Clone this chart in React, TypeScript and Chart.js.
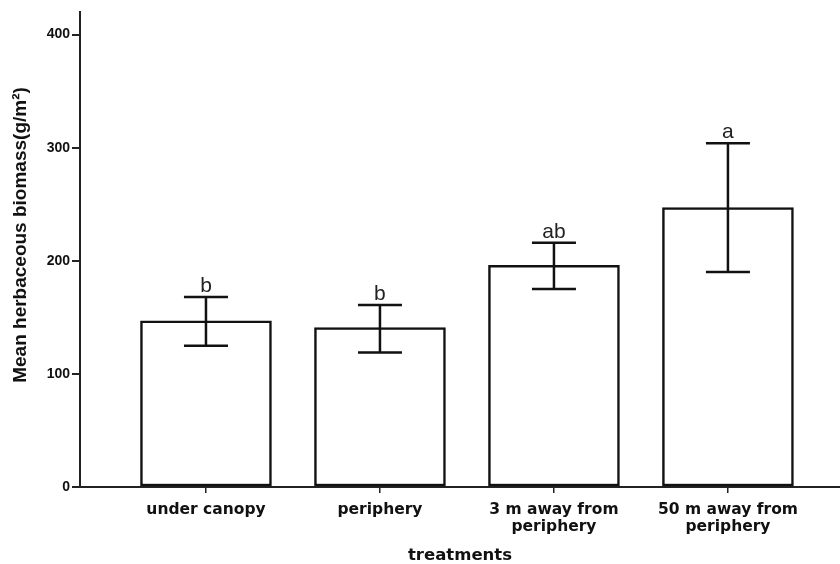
import React, { useEffect, useRef } from "react";
import { Chart, registerables } from "chart.js";

Chart.register(...registerables);

const categories: string[][] = [
  ["under canopy"],
  ["periphery"],
  ["3 m away from", "periphery"],
  ["50 m away from", "periphery"],
];
const means: number[] = [147, 141, 196, 247];
const errLow: number[] = [125, 119, 175, 190];
const errHigh: number[] = [168, 161, 216, 304];
const letters: string[] = ["b", "b", "ab", "a"];
const yTicks: number[] = [0, 100, 200, 300, 400];
const yTitle = "Mean herbaceous biomass(g/m²)";
const xTitle = "treatments";

const errorBarPlugin = {
  id: "errorBars",
  afterDatasetsDraw(chart: any) {
    const { ctx, scales } = chart;
    const xs = scales.x;
    const ys = scales.y;
    ctx.save();
    ctx.strokeStyle = "#111";
    ctx.lineWidth = 2.5;
    ctx.lineCap = "butt";
    for (let i = 0; i < means.length; i++) {
      const x = xs.getPixelForValue(i + 1);
      const yl = ys.getPixelForValue(errLow[i]);
      const yh = ys.getPixelForValue(errHigh[i]);
      ctx.beginPath();
      ctx.moveTo(x, yl);
      ctx.lineTo(x, yh);
      ctx.moveTo(x - 22, yl);
      ctx.lineTo(x + 22, yl);
      ctx.moveTo(x - 22, yh);
      ctx.lineTo(x + 22, yh);
      ctx.stroke();
      ctx.fillStyle = "#222";
      ctx.font = "normal 21px 'Liberation Sans', Arial, sans-serif";
      ctx.textAlign = "center";
      ctx.textBaseline = "alphabetic";
      ctx.fillText(letters[i], x, yh - 5);
    }
    // axis titles
    ctx.fillStyle = "#111";
    ctx.font = "bold 19px 'Liberation Sans', Arial, sans-serif";
    ctx.textAlign = "center";
    ctx.textBaseline = "middle";
    ctx.save();
    ctx.translate(21, 235);
    ctx.rotate(-Math.PI / 2);
    ctx.fillText(yTitle, 0, 0);
    ctx.restore();
    ctx.font = "bold 16.5px 'DejaVu Sans', sans-serif";
    ctx.fillText(xTitle, (chart.chartArea.left + chart.chartArea.right) / 2 - 0, 556);
    ctx.restore();
  },
};

export default function App() {
  const ref = useRef<HTMLCanvasElement | null>(null);
  useEffect(() => {
    if (!ref.current) return;
    const chart = new Chart(ref.current, {
      type: "bar",
      data: {
        datasets: [
          {
            data: means.map((m, i) => ({ x: i + 1, y: m })),
            backgroundColor: "#ffffff",
            borderColor: "#111",
            borderWidth: 2.5,
            borderSkipped: false,
            barThickness: 131,
          } as any,
        ],
      },
      options: {
        responsive: false,
        animation: false,
        layout: { padding: { top: 12, right: 0, left: 0, bottom: 0 } },
        plugins: {
          legend: { display: false },
          tooltip: { enabled: false },
        },
        scales: {
          x: {
            type: "linear",
            offset: false,
            min: 0.276,
            max: 4.644,
            afterBuildTicks: (s: any) => {
              s.ticks = [1, 2, 3, 4].map((v) => ({ value: v }));
            },
            afterFit: (s: any) => {
              s.height = 77;
            },
            ticks: {
              autoSkip: false,
              maxRotation: 0,
              minRotation: 0,
              padding: 8,
              color: "#111",
              font: { family: "'DejaVu Sans', sans-serif", weight: "bold", size: 15.5, lineHeight: 1.1 },
              callback: (v: any) => categories[Number(v) - 1] ?? "",
            },
            grid: { offset: false, drawOnChartArea: false, drawTicks: true, tickLength: 6, color: "#222", lineWidth: 1.5 },
            border: { color: "#222", width: 2 },
            title: { display: false },
          },
          y: {
            min: 0,
            max: 420,
            afterBuildTicks: (s: any) => {
              s.ticks = yTicks.map((v) => ({ value: v }));
            },
            afterFit: (s: any) => {
              s.width = 80;
            },
            ticks: {
              padding: 2,
              color: "#111",
              font: { family: "'Liberation Sans', Arial, sans-serif", weight: "bold", size: 14 },
            },
            grid: { drawOnChartArea: false, drawTicks: true, tickLength: 8, color: "#222", lineWidth: 2 },
            border: { color: "#222", width: 2 },
            title: { display: false },
          },
        },
      } as any,
      plugins: [errorBarPlugin],
    });
    return () => chart.destroy();
  }, []);
  return (
    <div style={{ position: "fixed", left: 0, top: 0, width: 840, height: 564, background: "#fff" }}>
      <canvas ref={ref} width={840} height={564} style={{ width: 840, height: 564, display: "block" }} />
    </div>
  );
}
